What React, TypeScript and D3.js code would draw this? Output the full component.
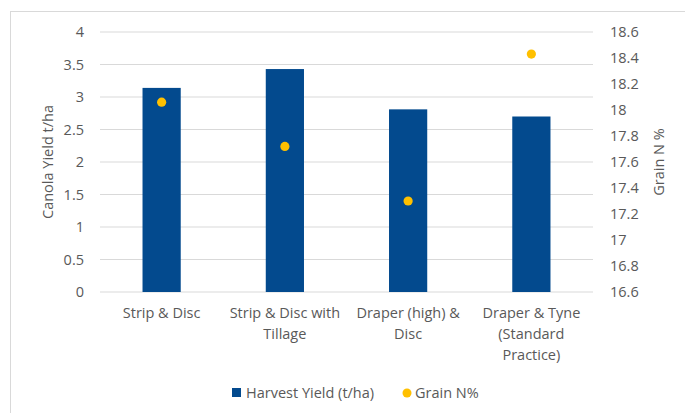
import React from "react";
import * as d3 from "d3";

// Treatments and measurements
const categories: string[][] = [
  ["Strip & Disc"],
  ["Strip & Disc with", "Tillage"],
  ["Draper (high) &", "Disc"],
  ["Draper & Tyne", "(Standard", "Practice)"],
];
const harvestYield: number[] = [3.14, 3.43, 2.81, 2.7];
const grainN: number[] = [18.06, 17.72, 17.3, 18.43];

const yieldTicks: number[] = [0, 0.5, 1, 1.5, 2, 2.5, 3, 3.5, 4];
const nTicks: number[] = [16.6, 16.8, 17, 17.2, 17.4, 17.6, 17.8, 18, 18.2, 18.4, 18.6];

const W = 685;
const H = 413;
const FONT = "'Open Sans', 'Noto Sans', sans-serif";
const FS = 14.5;
const TEXT = "#595959";
const GRID = "#d9d9d9";
const BAR = "#034A8E";
const DOT = "#FFC000";

export default function App() {
  const left = 100;
  const right = 593;
  const top = 32;
  const bottom = 292;

  const x = d3
    .scaleBand<number>()
    .domain(categories.map((_, i) => i))
    .range([left, right])
    .paddingInner(0.69)
    .paddingOuter(0.345);
  const yL = d3.scaleLinear().domain([0, 4]).range([bottom, top]);
  const yR = d3.scaleLinear().domain([16.6, 18.6]).range([bottom, top]);
  const band = (right - left) / categories.length;

  return (
    <svg
      width={W}
      height={H}
      style={{ position: "absolute", left: 0, top: 0, background: "#fff" }}
      fontFamily={FONT}
    >
      <rect x={10.5} y={11.5} width={W + 10} height={H + 10} fill="#fff" stroke={GRID} />

      {/* gridlines */}
      {yieldTicks.map((t) => (
        <line key={t} x1={left} x2={right} y1={yL(t)} y2={yL(t)} stroke={GRID} strokeWidth={1.2} />
      ))}

      {/* left axis labels */}
      {yieldTicks.map((t) => (
        <text key={t} x={84} y={yL(t)} dy="0.35em" textAnchor="end" fontSize={FS} fill={TEXT}>
          {t}
        </text>
      ))}
      {/* right axis labels */}
      {nTicks.map((t) => (
        <text key={t} x={610} y={yR(t)} dy="0.35em" textAnchor="start" fontSize={FS} fill={TEXT}>
          {d3.format("~g")(t)}
        </text>
      ))}

      <text
        transform={`translate(53, ${(top + bottom) / 2}) rotate(-90)`}
        textAnchor="middle"
        fontSize={FS}
        fill={TEXT}
      >
        Canola Yield t/ha
      </text>
      <text
        transform={`translate(664, ${(top + bottom) / 2}) rotate(-90)`}
        textAnchor="middle"
        fontSize={FS}
        fill={TEXT}
      >
        Grain N %
      </text>

      {/* bars */}
      {harvestYield.map((v, i) => (
        <rect
          key={i}
          x={x(i)}
          y={yL(v)}
          width={x.bandwidth()}
          height={yL(0) - yL(v)}
          fill={BAR}
        />
      ))}

      {/* grain N points */}
      {grainN.map((v, i) => (
        <circle key={i} cx={(x(i) as number) + x.bandwidth() / 2} cy={yR(v)} r={4.6} fill={DOT} />
      ))}

      {/* category labels */}
      {categories.map((lines, i) => (
        <text
          key={i}
          x={left + band * (i + 0.5)}
          y={318}
          textAnchor="middle"
          fontSize={FS}
          fill={TEXT}
        >
          {lines.map((l, j) => (
            <tspan key={j} x={left + band * (i + 0.5)} dy={j === 0 ? 0 : 21}>
              {l}
            </tspan>
          ))}
        </text>
      ))}

      {/* legend */}
      <rect x={232} y={388} width={9} height={9} fill={BAR} />
      <text x={246} y={398} fontSize={FS} fill={TEXT}>
        Harvest Yield (t/ha)
      </text>
      <circle cx={407} cy={393} r={4.5} fill={DOT} />
      <text x={415} y={398} fontSize={FS} fill={TEXT}>
        Grain N%
      </text>
    </svg>
  );
}
